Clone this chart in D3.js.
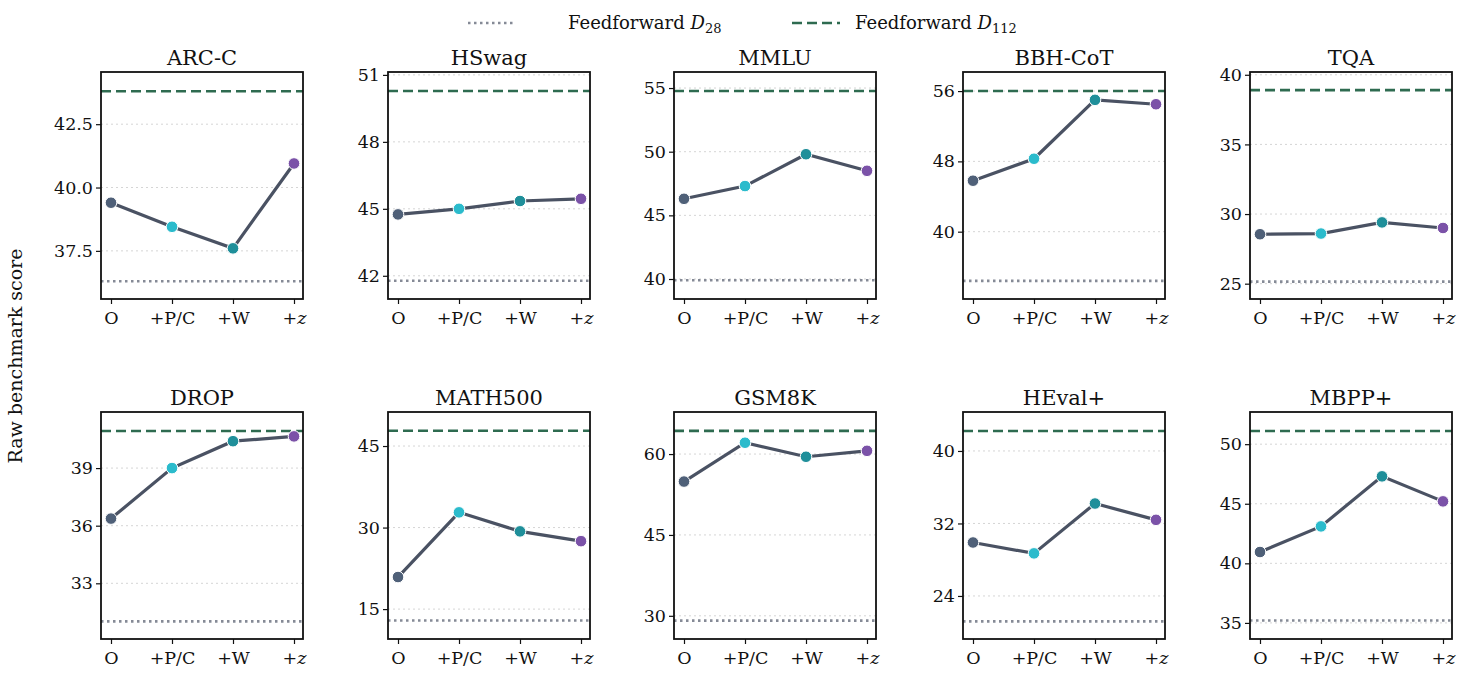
<!DOCTYPE html>
<html><head><meta charset="utf-8">
<script src="https://cdn.jsdelivr.net/npm/d3@7"></script>
<style>body{margin:0;background:#fff}</style></head>
<body><svg id="c" width="1462" height="684"></svg>
<script>
const categories = ["O","+P/C","+W","+z"];
const benchmarks = ["ARC-C","HSwag","MMLU","BBH-CoT","TQA","DROP","MATH500","GSM8K","HEval+","MBPP+"];
const scores = [
  [39.4,38.45,37.6,40.95],
  [44.75,45.0,45.35,45.45],
  [46.3,47.3,49.8,48.5],
  [45.8,48.3,55.0,54.5],
  [28.55,28.6,29.4,29.0],
  [36.37,39.0,40.4,40.65],
  [20.9,32.8,29.3,27.5],
  [54.9,62.1,59.5,60.6],
  [29.9,28.7,34.2,32.4],
  [40.95,43.1,47.3,45.2]
];
const d28 = [36.3,41.78,39.9,34.4,25.15,31.02,12.9,29.1,21.2,35.2];
const d112 = [43.8,50.28,54.77,56.0,38.9,40.93,47.8,64.3,42.2,51.1];
const yDomains = [[35.6,44.56],[40.96,51.13],[38.43,56.26],[32.34,58.17],[23.9,40.2],[30.1,41.92],[9.5,51.26],[25.7,67.8],[19.25,44.3],[33.65,52.7]];
const yTicks = [[37.5,40,42.5],[42,45,48,51],[40,45,50,55],[40,48,56],[25,30,35,40],[33,36,39],[15,30,45],[30,45,60],[24,32,40],[35,40,45,50]];
const tickFmt = [".1f","d","d","d","d","d","d","d","d","d"];
const pointColors = ["#4f6078","#2bbbcc","#1f8f9a","#7b52a8"];

const svg = d3.select("#c");
const font = "DejaVu Serif";
const lefts = [101,388,674,963,1250];
const tops = [72,412];
const W = 202, H = [227,227];

benchmarks.forEach((b,i)=>{
  const r = Math.floor(i/5), c = i%5;
  const g = svg.append("g").attr("transform",`translate(${lefts[c]},${tops[r]})`);
  const h = H[r];
  const x = d3.scalePoint().domain(categories).range([10,W-9]).padding(0);
  const y = d3.scaleLinear().domain(yDomains[i]).range([h,0]);
  g.selectAll(".grid").data(yTicks[i]).enter().append("line")
    .attr("x1",0).attr("x2",W).attr("y1",d=>y(d)).attr("y2",d=>y(d))
    .attr("stroke","#d5d5d5").attr("stroke-width",1).attr("stroke-dasharray","2,3");
  g.append("line").attr("x1",0).attr("x2",W).attr("y1",y(d28[i])).attr("y2",y(d28[i]))
    .attr("stroke","#858a96").attr("stroke-width",2.6).attr("stroke-dasharray","2.5,3.5");
  g.append("line").attr("x1",0).attr("x2",W).attr("y1",y(d112[i])).attr("y2",y(d112[i]))
    .attr("stroke","#2e6b50").attr("stroke-width",2.6).attr("stroke-dasharray","10,5");
  const data = scores[i].map((v,k)=>({c:categories[k],v,k}));
  g.append("path").datum(data).attr("fill","none").attr("stroke","#4a5263").attr("stroke-width",3.2)
    .attr("d",d3.line().x(d=>x(d.c)).y(d=>y(d.v)));
  g.selectAll(".pt").data(data).enter().append("circle")
    .attr("cx",d=>x(d.c)).attr("cy",d=>y(d.v)).attr("r",5.8)
    .attr("fill",d=>pointColors[d.k]).attr("stroke","#fff").attr("stroke-width",1);
  const ya = g.append("g").call(d3.axisLeft(y).tickValues(yTicks[i]).tickFormat(d3.format(tickFmt[i])).tickSize(5).tickSizeOuter(0));
  ya.select(".domain").remove();
  ya.selectAll("text").attr("font-family",font).attr("font-size",17.5).attr("fill","#111");
  ya.selectAll("line").attr("stroke","#111").attr("stroke-width",1.2);
  const xa = g.append("g").attr("transform",`translate(0,${h})`).call(d3.axisBottom(x).tickSize(5).tickSizeOuter(0));
  xa.select(".domain").remove();
  xa.selectAll("text").attr("font-family",font).attr("font-size",17.5).attr("fill","#111").attr("dy","0.95em")
    .each(function(d){ if(d==="+z"){ d3.select(this).text("+").append("tspan").attr("font-style","italic").text("z"); } });
  xa.selectAll("line").attr("stroke","#111").attr("stroke-width",1.2);
  g.append("rect").attr("x",0).attr("y",0).attr("width",W).attr("height",h)
    .attr("fill","none").attr("stroke","#111").attr("stroke-width",1.8);
  g.append("text").attr("x",W/2).attr("y",-7).attr("text-anchor","middle")
    .attr("font-family",font).attr("font-size",21).attr("fill","#111").text(b);
});

svg.append("text").attr("transform","translate(22,356) rotate(-90)").attr("text-anchor","middle")
  .attr("font-family",font).attr("font-size",19).attr("fill","#111").text("Raw benchmark score");

const leg = [
  {x:468, tx:568, sub:"28", stroke:"#858a96", dash:"2.5,3.5"},
  {x:792, tx:855, sub:"112", stroke:"#2e6b50", dash:"10,5"}
];
leg.forEach(l=>{
  svg.append("line").attr("x1",l.x).attr("x2",l.x+48).attr("y1",23).attr("y2",23)
    .attr("stroke",l.stroke).attr("stroke-width",2.6).attr("stroke-dasharray",l.dash);
  const t = svg.append("text").attr("x",l.tx).attr("y",29).attr("font-family",font)
    .attr("font-size",18).attr("fill","#111");
  t.append("tspan").text("Feedforward ");
  t.append("tspan").attr("font-style","italic").text("D");
  t.append("tspan").attr("font-size",13).attr("dy",4).text(l.sub);
});
</script></body></html>
